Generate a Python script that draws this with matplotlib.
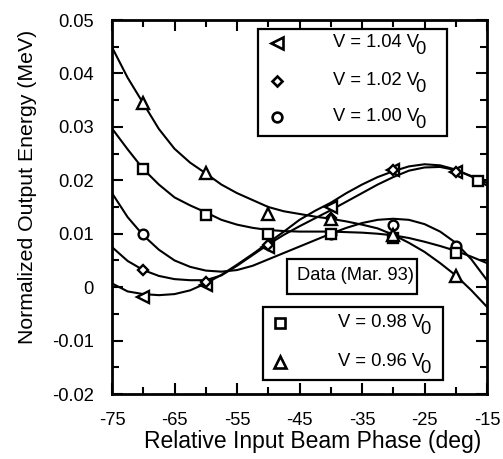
import matplotlib
matplotlib.use("Agg")
import matplotlib.pyplot as plt
from matplotlib.patches import Rectangle

plt.rcParams['font.family'] = ['Liberation Sans', 'DejaVu Sans']
plt.rcParams['axes.unicode_minus'] = False

# fitted curves, every 2.5 deg
curve_x = [-75, -72.5, -70, -67.5, -65, -62.5, -60, -57.5, -55, -52.5, -50, -47.5, -45,
           -42.5, -40, -37.5, -35, -32.5, -30, -27.5, -25, -22.5, -20, -17.5, -15]
fit_104 = [0.0007, -0.0008, -0.0013, -0.0015, -0.0013, -0.0006, 0.0007, 0.0023, 0.0042, 0.0062,
           0.0083, 0.0104, 0.0126, 0.0143, 0.0158, 0.0176, 0.0192, 0.0206, 0.0217, 0.0226,
           0.0230, 0.0228, 0.0220, 0.0207, 0.0190]
fit_102 = [0.0075, 0.0049, 0.0032, 0.0021, 0.0015, 0.0013, 0.0013, 0.0022, 0.0040, 0.0060,
           0.0080, 0.0098, 0.0114, 0.0129, 0.0144, 0.0160, 0.0176, 0.0192, 0.0206, 0.0218,
           0.0224, 0.0225, 0.0219, 0.0208, 0.0195]
fit_100 = [0.0176, 0.0131, 0.0097, 0.0070, 0.0050, 0.0038, 0.0031, 0.0029, 0.0032, 0.0040,
           0.0052, 0.0064, 0.0076, 0.0088, 0.0100, 0.0111, 0.0120, 0.0126, 0.0128, 0.0126,
           0.0118, 0.0104, 0.0083, 0.0052, 0.0013]
fit_098 = [0.0297, 0.0258, 0.0221, 0.0192, 0.0168, 0.0153, 0.0140, 0.0126, 0.0117, 0.0111,
           0.0107, 0.0105, 0.0104, 0.0104, 0.0104, 0.0103, 0.0102, 0.0100, 0.0097, 0.0092,
           0.0085, 0.0077, 0.0068, 0.0057, 0.0045]
fit_096 = [0.0449, 0.0392, 0.0344, 0.0296, 0.0259, 0.0233, 0.0213, 0.0192, 0.0176, 0.0163,
           0.0150, 0.0142, 0.0137, 0.0132, 0.0128, 0.0123, 0.0117, 0.0110, 0.0098, 0.0083,
           0.0066, 0.0045, 0.0022, -0.0006, -0.0037]

# measured points
x_104 = [-70, -60, -50, -40, -30, -20]
y_104 = [-0.0018, 0.0004, 0.0075, 0.0150, 0.0219, 0.0216]
x_102 = [-70, -60, -50, -40, -30, -20]
y_102 = [0.0032, 0.0010, 0.0079, 0.0129, 0.0219, 0.0216]
x_100 = [-70, -40, -30, -20]
y_100 = [0.0100, 0.0100, 0.0116, 0.0077]
x_098 = [-70, -60, -50, -40, -30, -20, -16.5]
y_098 = [0.0221, 0.0135, 0.0100, 0.0100, 0.0092, 0.0064, 0.0199]
x_096 = [-70, -60, -50, -40, -30, -20]
y_096 = [0.0344, 0.0213, 0.0136, 0.0128, 0.0097, 0.0020]

fig = plt.figure(figsize=(5.03, 4.59), dpi=100)
ax = fig.add_axes([0.2227, 0.1416, 0.7455, 0.8148])

for f in [fit_104, fit_102, fit_100, fit_098, fit_096]:
    ax.plot(curve_x, f, color='black', lw=1.5, zorder=2)

mk = dict(ls='none', color='black', mfc='white', mew=1.7, zorder=3, clip_on=False)
ax.plot(x_104, y_104, marker='<', ms=8.5, **mk)
ax.plot(x_102, y_102, marker='D', ms=5.5, **mk)
ax.plot(x_100, y_100, marker='o', ms=7, **mk)
ax.plot(x_098, y_098, marker='s', ms=7.5, **mk)
ax.plot(x_096, y_096, marker='^', ms=8.5, **mk)

ax.set_xlim(-75, -15)
ax.set_ylim(-0.02, 0.05)
ax.set_xticks(range(-75, -14, 10))
ax.set_xticks(range(-70, -14, 10), minor=True)
ax.set_yticks([-0.02, -0.01, 0, 0.01, 0.02, 0.03, 0.04, 0.05])
ax.set_yticks([-0.015, -0.005, 0.005, 0.015, 0.025, 0.035, 0.045], minor=True)
ax.set_yticklabels(['-0.02', '-0.01', '0', '0.01', '0.02', '0.03', '0.04', '0.05'])
ax.tick_params(which='both', direction='in', top=True, right=True, width=1.5, labelsize=13.2)
ax.tick_params(which='major', length=8)
ax.tick_params(which='minor', length=5)
ax.tick_params(axis='x', pad=13)
ax.tick_params(axis='y', pad=13)
for s in ax.spines.values():
    s.set_linewidth(2)

ax.set_xlabel('Relative Input Beam Phase (deg)', fontsize=16.5)
ax.set_ylabel('Normalized Output Energy (MeV)', fontsize=15.3)
ax.xaxis.set_label_coords(0.536, -0.097)
ax.yaxis.set_label_coords(-0.2, 0.555)

# boxed legends, drawn by hand
def box(x0, y0, w, h):
    ax.add_patch(Rectangle((x0, y0), w, h, transform=ax.transAxes, fill=True,
                           facecolor='white', edgecolor='black', lw=1.6, zorder=4))

def entry(xm, xt, y, marker, ms, label):
    ax.plot([xm], [y], transform=ax.transAxes, marker=marker, ms=ms, color='black',
            mfc='white', mew=1.9, ls='none', zorder=5)
    ax.text(xt, y, label, transform=ax.transAxes, fontsize=13.2, va='center', zorder=5)
    ax.text(xt + 0.219, y - 0.017, '0', transform=ax.transAxes, fontsize=13.2,
            va='center', zorder=5)

box(0.389, 0.690, 0.504, 0.287)
entry(0.44, 0.589, 0.939, '<', 8.5, 'V = 1.04 V')
entry(0.44, 0.589, 0.837, 'D', 5.5, 'V = 1.02 V')
entry(0.44, 0.589, 0.741, 'o', 7, 'V = 1.00 V')

box(0.403, 0.037, 0.480, 0.196)
entry(0.448, 0.603, 0.190, 's', 7.5, 'V = 0.98 V')
entry(0.448, 0.603, 0.086, '^', 8.5, 'V = 0.96 V')

box(0.467, 0.267, 0.346, 0.094)
ax.text(0.493, 0.318, 'Data (Mar. 93)', transform=ax.transAxes, fontsize=13.2,
        va='center', zorder=5)

fig.savefig('out.png', dpi=100)
